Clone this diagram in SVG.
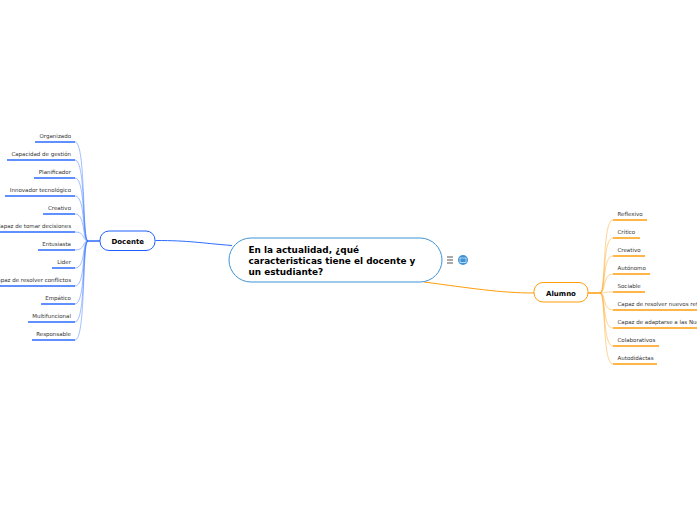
<svg xmlns="http://www.w3.org/2000/svg" width="697" height="520" viewBox="0 0 697 520">
<style>
text{font-family:"DejaVu Sans",Verdana,sans-serif}
.t{font-size:5.5px;fill:#333}
.e{text-anchor:end}
.n{font-size:7px;font-weight:700;fill:#000;text-anchor:middle}
.c{font-size:8.9px;font-weight:700;fill:#000}
.bl,.bc,.bu{fill:none;stroke:#2b6bff}
.ol,.oc,.ou{fill:none;stroke:#ff9d0a}
.bl,.ol{stroke-width:.8;opacity:.55}
.bu,.ou{stroke-width:1.5}
.bc,.oc{stroke-width:1}
</style>
<rect width="697" height="520" fill="#fff"/>
<g id="connectors">
<path class="bc" d="M155.500 240.500C190 240.500 200 243 232 245.500"/>
<path class="oc" d="M424 282C470 288 500 293 534 293"/>
<path class="bu" d="M100 241H88"/>
<path class="ou" d="M588 293H600"/>
<g id="docente-branches">
<path class="bl" d="M88 241C82 241 86 142 75 142"/><path class="bl" d="M88 241C82 241 86 160 75 160"/><path class="bl" d="M88 241C82 241 86 178 75 178"/><path class="bl" d="M88 241C82 241 86 196 75 196"/><path class="bl" d="M88 241C82 241 86 214 75 214"/><path class="bl" d="M88 241C82 241 86 232 75 232"/><path class="bl" d="M88 241C82 241 86 250 75 250"/><path class="bl" d="M88 241C82 241 86 268 75 268"/><path class="bl" d="M88 241C82 241 86 286 75 286"/><path class="bl" d="M88 241C82 241 86 304 75 304"/><path class="bl" d="M88 241C82 241 86 322 75 322"/><path class="bl" d="M88 241C82 241 86 340 75 340"/>
</g>
<g id="alumno-branches">
<path class="ol" d="M600 293C606 293 602 220 613 220"/><path class="ol" d="M600 293C606 293 602 238 613 238"/><path class="ol" d="M600 293C606 293 602 256 613 256"/><path class="ol" d="M600 293C606 293 602 274 613 274"/><path class="ol" d="M600 293C606 293 602 292 613 292"/><path class="ol" d="M600 293C606 293 602 310 613 310"/><path class="ol" d="M600 293C606 293 602 328 613 328"/><path class="ol" d="M600 293C606 293 602 346 613 346"/><path class="ol" d="M600 293C606 293 602 364 613 364"/>
</g>
</g>
<g id="center">
<rect x="229" y="238" width="213" height="44" rx="22" fill="#fff" stroke="#3f93d4" stroke-width="1"/>
<text class="c" x="248.500" y="253">En la actualidad, ¿qué</text>
<text class="c" x="248.500" y="264">caracteristicas tiene el docente y</text>
<text class="c" x="248.500" y="275">un estudiante?</text>
</g>
<g id="center-icons">
<path d="M447 257H453M447 260H453M447 263H453" stroke="#555" stroke-width="1" fill="none"/>
<circle cx="463" cy="260" r="5" fill="#3f93d4"/>
<rect x="460" y="258" width="6" height="4.500" fill="none" stroke="#cfe6f7" stroke-width=".8"/>
</g>
<g id="docente"><rect x="100" y="231" width="55" height="19.500" rx="9" fill="#fff" stroke="#1f5fff" stroke-width="1"/><text class="n" x="127.800" y="243.500">Docente</text></g>
<g id="alumno"><rect x="534" y="282.500" width="54" height="19.500" rx="9" fill="#fff" stroke="#ff9d0a" stroke-width="1"/><text class="n" x="561" y="295.500">Alumno</text></g>
<g id="d1"><path class="bu" d="M35 142H75"/><text class="t e" x="71" y="138">Organizado</text></g>
<g id="d2"><path class="bu" d="M7 160H75"/><text class="t e" x="71" y="156">Capacidad de gestión</text></g>
<g id="d3"><path class="bu" d="M34 178H75"/><text class="t e" x="71" y="174">Planificador</text></g>
<g id="d4"><path class="bu" d="M5 196H75"/><text class="t e" x="71" y="192">Innovador tecnológico</text></g>
<g id="d5"><path class="bu" d="M43 214H75"/><text class="t e" x="71" y="210">Creativo</text></g>
<g id="d6"><path class="bu" d="M-8 232H75"/><text class="t e" x="71" y="228">Capaz de tomar decisiones</text></g>
<g id="d7"><path class="bu" d="M38 250H75"/><text class="t e" x="71" y="246">Entusiasta</text></g>
<g id="d8"><path class="bu" d="M52 268H75"/><text class="t e" x="71" y="264">Lider</text></g>
<g id="d9"><path class="bu" d="M-8 286H75"/><text class="t e" x="71" y="282">Capaz de resolver conflictos</text></g>
<g id="d10"><path class="bu" d="M41 304H75"/><text class="t e" x="71" y="300">Empático</text></g>
<g id="d11"><path class="bu" d="M28 322H75"/><text class="t e" x="71" y="318">Multifuncional</text></g>
<g id="d12"><path class="bu" d="M32 340H75"/><text class="t e" x="71" y="336">Responsable</text></g>
<g id="a1"><path class="ou" d="M613 220H647"/><text class="t" x="617.500" y="216">Reflexivo</text></g>
<g id="a2"><path class="ou" d="M613 238H640"/><text class="t" x="617.500" y="234">Crítico</text></g>
<g id="a3"><path class="ou" d="M613 256H645"/><text class="t" x="617.500" y="252">Creativo</text></g>
<g id="a4"><path class="ou" d="M613 274H650"/><text class="t" x="617.500" y="270">Autónomo</text></g>
<g id="a5"><path class="ou" d="M613 292H645"/><text class="t" x="617.500" y="288">Sociable</text></g>
<g id="a6"><path class="ou" d="M613 310H700"/><text class="t" x="617.500" y="306">Capaz de resolver nuevos retos</text></g>
<g id="a7"><path class="ou" d="M613 328H700"/><text class="t" x="617.500" y="324">Capaz de adaptarse a las Nuevas</text></g>
<g id="a8"><path class="ou" d="M613 346H659"/><text class="t" x="617.500" y="342">Colaborativos</text></g>
<g id="a9"><path class="ou" d="M613 364H657"/><text class="t" x="617.500" y="360">Autodidáctas</text></g>
</svg>
